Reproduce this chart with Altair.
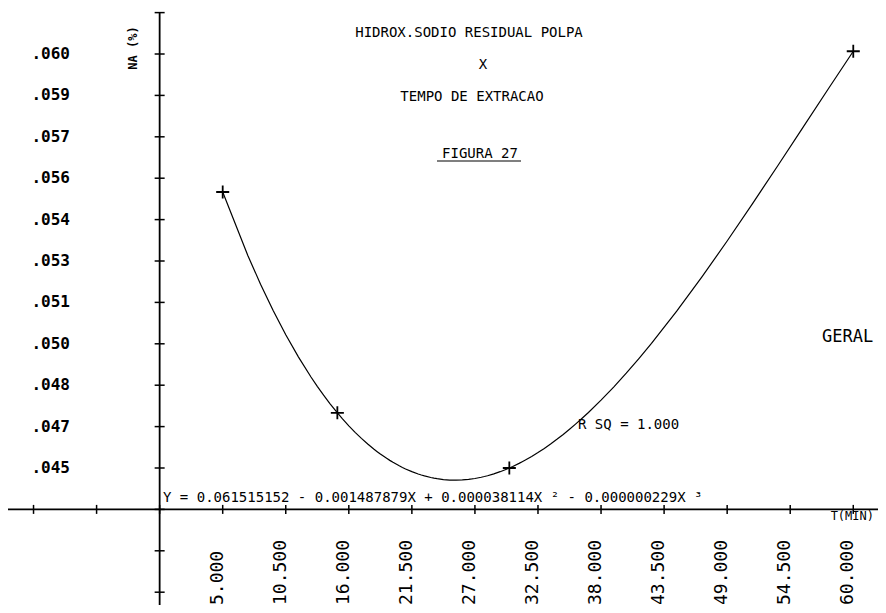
import altair as alt
import pandas as pd

# ---- data ----
t_obs = [5, 15, 30, 60]
y_obs = [0.0550, 0.0470, 0.0450, 0.0601]

x_tick_vals = [-11.5, -6.0, -0.5, 5.0, 10.5, 16.0, 21.5, 27.0, 32.5, 38.0, 43.5, 49.0, 54.5, 60.0]
x_label_vals = [5.0, 10.5, 16.0, 21.5, 27.0, 32.5, 38.0, 43.5, 49.0, 54.5, 60.0]
x_label_txt = ["5.000", "10.500", "16.000", "21.500", "27.000", "32.500",
               "38.000", "43.500", "49.000", "54.500", "60.000"]
y_tick_vals = [0.0615, 0.0600, 0.0585, 0.0570, 0.0555, 0.0540, 0.0525, 0.0510,
               0.0495, 0.0480, 0.0465, 0.0450, 0.0435, 0.0420, 0.0405]
y_label_vals = [0.0600, 0.0585, 0.0570, 0.0555, 0.0540, 0.0525, 0.0510,
                0.0495, 0.0480, 0.0465, 0.0450]
y_label_txt = [".060", ".059", ".057", ".056", ".054", ".053", ".051",
               ".050", ".048", ".047", ".045"]
x_cross = -0.5
y_cross = 0.0435
x_domain = [-13.727, 62.157]
y_domain = [0.040036, 0.061667]

title_lines = ["HIDROX.SODIO RESIDUAL POLPA", "X", "TEMPO DE EXTRACAO"]
figure_txt = "FIGURA 27"
y_unit_txt = "NA (%)"
group_txt = "GERAL"
rsq_txt = "R SQ = 1.000"
eq_txt = "Y = 0.061515152 - 0.001487879X + 0.000038114X \u00b2 - 0.000000229X \u00b3"
x_unit_txt = "T(MIN)"

W, H = 870, 597
FONT = "DejaVu Sans Mono"

xs = alt.Scale(domain=x_domain, nice=False, zero=False)
ys = alt.Scale(domain=y_domain, nice=False, zero=False)


def X(f):
    return alt.X(f, type="quantitative", scale=xs, axis=None)


def Y(f):
    return alt.Y(f, type="quantitative", scale=ys, axis=None)


obs = pd.DataFrame({"t": t_obs, "y": y_obs})

curve = alt.Chart(obs).transform_regression(
    "t", "y", method="poly", order=3, extent=[5, 60]
).mark_line(color="black", strokeWidth=1.2).encode(x=X("t"), y=Y("y"))

points = alt.Chart(obs).mark_point(
    shape="M-1,0L1,0M0,-1L0,1", size=170, filled=False,
    stroke="black", strokeWidth=1.8, opacity=1
).encode(x=X("t"), y=Y("y"))

yaxis_line = alt.Chart(pd.DataFrame({"x": [x_cross], "y1": [y_tick_vals[0]], "y2": [y_domain[0]]})).mark_rule(
    color="black", strokeWidth=1.8
).encode(x=X("x"), y=Y("y1"), y2="y2:Q")

xaxis_line = alt.Chart(pd.DataFrame({"x1": [x_domain[0]], "x2": [x_domain[1]], "y": [y_cross]})).mark_rule(
    color="black", strokeWidth=1.8
).encode(x=X("x1"), x2="x2:Q", y=Y("y"))

yticks = alt.Chart(pd.DataFrame({"x": [x_cross] * len(y_tick_vals), "y": y_tick_vals})).mark_tick(
    orient="horizontal", size=10, thickness=1.5, color="black", opacity=1
).encode(x=X("x"), y=Y("y"))

xticks = alt.Chart(pd.DataFrame({"x": x_tick_vals, "y": [y_cross] * len(x_tick_vals)})).mark_tick(
    orient="vertical", size=9, thickness=1.5, color="black", opacity=1
).encode(x=X("x"), y=Y("y"))

ylabels = alt.Chart(pd.DataFrame({"y": y_label_vals, "lab": y_label_txt})).mark_text(
    font=FONT, fontSize=16, fontWeight="bold", align="right", baseline="middle", color="black"
).encode(x=alt.value(62), y=Y("y"), text="lab:N")

xlabels = alt.Chart(pd.DataFrame({"x": x_label_vals, "lab": x_label_txt})).mark_text(
    font=FONT, fontSize=18, angle=270, align="left", baseline="alphabetic", color="black"
).encode(x=X("x"), y=alt.value(H), text="lab:N")


def label(txt, x, y, size=14, align="center", angle=0, weight="normal"):
    return alt.Chart(pd.DataFrame({"lab": [txt]})).mark_text(
        font=FONT, fontSize=size, align=align, baseline="middle",
        angle=angle, fontWeight=weight, color="black"
    ).encode(x=alt.value(x), y=alt.value(y), text="lab:N")


texts = [
    label(title_lines[0], 461, 25),
    label(title_lines[1], 475, 57),
    label(title_lines[2], 464, 89),
    label(figure_txt, 472, 146),
    label(y_unit_txt, 125, 40, size=12, angle=270, weight="bold"),
    label(group_txt, 814, 329, size=17, align="left"),
    label(rsq_txt, 570, 417, align="left"),
    label(eq_txt, 155, 490, align="left"),
    label(x_unit_txt, 866, 508, size=12, align="right"),
]

underline = alt.Chart(pd.DataFrame({"k": [0]})).mark_rule(color="black", strokeWidth=1.2).encode(
    x=alt.value(429), x2=alt.value(513), y=alt.value(153)
)

chart = alt.layer(
    xaxis_line, yaxis_line, xticks, yticks, curve, points, ylabels, xlabels, underline, *texts
).properties(
    width=W, height=H, padding=0,
    autosize=alt.AutoSizeParams(type="none"),
    background="white",
).configure_view(strokeWidth=0)

chart.save("out.html", embed_options={"renderer": "svg", "actions": False})
